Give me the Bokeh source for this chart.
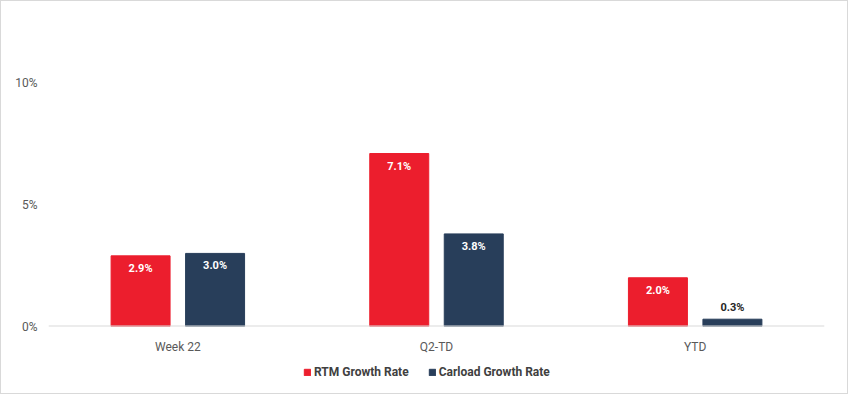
from bokeh.plotting import figure
from bokeh.layouts import column
from bokeh.models import ColumnDataSource, FactorRange, Range1d, Legend, LegendItem, Span, FixedTicker, CustomJSTickFormatter
from bokeh.transform import dodge
from bokeh.core.properties import value
from bokeh.embed import file_html
from bokeh.resources import INLINE

categories = ["Week 22", "Q2-TD", "YTD"]
rtm_growth = [2.9, 7.1, 2.0]
carload_growth = [3.0, 3.8, 0.3]
series_names = ["RTM Growth Rate", "Carload Growth Rate"]
y_ticks = [0, 5, 10]

RED = "#EC1E2D"
NAVY = "#283E5A"
FONT = "Roboto"

def label_color(vals):
    return ["#FFFFFF" if v >= 1 else "#262626" for v in vals]

def label_offset(vals):
    return [6 if v >= 1 else -5 for v in vals]

def label_baseline(vals):
    return ["top" if v >= 1 else "bottom" for v in vals]

src = ColumnDataSource(dict(
    cat=categories,
    rtm=rtm_growth,
    car=carload_growth,
    rtm_txt=[f"{v:.1f}%" for v in rtm_growth],
    car_txt=[f"{v:.1f}%" for v in carload_growth],
    rtm_col=label_color(rtm_growth),
    car_col=label_color(carload_growth),
    rtm_off=label_offset(rtm_growth),
    car_off=label_offset(carload_growth),
    rtm_base=label_baseline(rtm_growth),
    car_base=label_baseline(carload_growth),
))

p = figure(
    x_range=FactorRange(*categories, range_padding=0),
    y_range=Range1d(0, 11),
    width=846, height=359,
    output_backend="svg", toolbar_location=None,
    min_border_left=47, min_border_right=23, min_border_top=57, min_border_bottom=34,
)
p.outline_line_color = None
p.background_fill_color = "white"
p.border_fill_color = "white"
p.xgrid.grid_line_color = None
p.ygrid.grid_line_color = None

OFF = 0.144
W = 0.228
r1 = p.vbar(x=dodge("cat", -OFF, range=p.x_range), top="rtm", width=W, source=src,
            fill_color=RED, line_color=RED)
r2 = p.vbar(x=dodge("cat", OFF, range=p.x_range), top="car", width=W, source=src,
            fill_color=NAVY, line_color=NAVY)

base = Span(location=0, dimension="width", line_color="#D9D9D9", line_width=2)
p.add_layout(base)

p.text(x=dodge("cat", -OFF, range=p.x_range), y="rtm", text="rtm_txt", source=src,
       text_color="rtm_col", y_offset="rtm_off", text_align="center", text_baseline="rtm_base",
       text_font=value(FONT), text_font_style="bold", text_font_size="11px")
p.text(x=dodge("cat", OFF, range=p.x_range), y="car", text="car_txt", source=src,
       text_color="car_col", y_offset="car_off", text_align="center", text_baseline="car_base",
       text_font=value(FONT), text_font_style="bold", text_font_size="11px")

p.yaxis.ticker = FixedTicker(ticks=y_ticks)
p.yaxis.formatter = CustomJSTickFormatter(code="return tick + '%';")
p.yaxis.axis_line_color = None
p.yaxis.major_tick_line_color = None
p.yaxis.minor_tick_line_color = None
p.yaxis.major_label_text_font = FONT
p.yaxis.major_label_text_font_size = "12px"
p.yaxis.major_label_text_color = "#595959"
p.yaxis.major_label_standoff = 5

p.xaxis.axis_line_color = None
p.xaxis.major_tick_line_color = None
p.xaxis.minor_tick_line_color = None
p.xaxis.major_label_text_font = FONT
p.xaxis.major_label_text_font_size = "12px"
p.xaxis.major_label_text_color = "#595959"
p.xaxis.major_label_standoff = 7

# legend strip below the chart
lg = figure(width=846, height=33, x_range=Range1d(0, 1), y_range=Range1d(0, 1),
            output_backend="svg", toolbar_location=None,
            min_border_left=0, min_border_right=0, min_border_top=0, min_border_bottom=0)
lg.axis.visible = False
lg.grid.visible = False
lg.outline_line_color = None
nan = float("nan")
dummy = ColumnDataSource(dict(x=[nan], top=[nan]))
d1 = lg.vbar(x="x", top="top", width=0.1, source=dummy, fill_color=RED, line_color=RED)
d2 = lg.vbar(x="x", top="top", width=0.1, source=dummy, fill_color=NAVY, line_color=NAVY)

legend = Legend(items=[LegendItem(label=series_names[0], renderers=[d1]),
                       LegendItem(label=series_names[1], renderers=[d2])],
                orientation="horizontal", location=(255, 14))
legend.label_text_font = FONT
legend.label_text_font_size = "12px"
legend.label_text_font_style = "bold"
legend.label_text_color = "#404040"
legend.label_height = 12
legend.glyph_width = 8
legend.glyph_height = 8
legend.label_standoff = 3
legend.spacing = 19
legend.padding = 0
legend.margin = 0
legend.border_line_color = None
legend.background_fill_alpha = 0
lg.add_layout(legend, "center")

layout = column(p, lg, spacing=0)
layout.styles = {"border": "1px solid #D9D9D9"}

open("out.html", "w").write(file_html(layout, INLINE))
